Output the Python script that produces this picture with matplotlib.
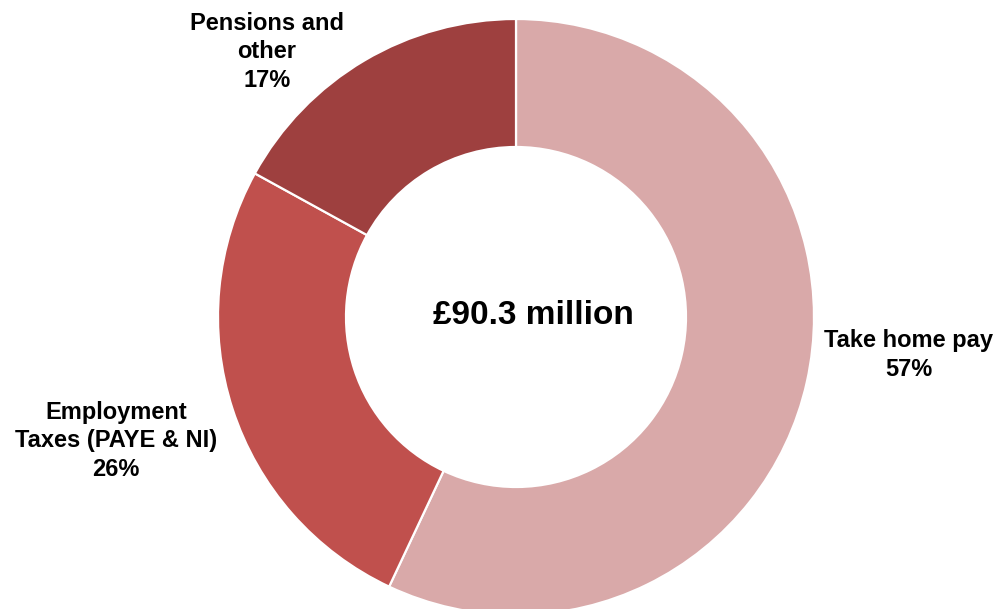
import matplotlib.pyplot as plt

plt.rcParams['font.family'] = ['Liberation Sans', 'DejaVu Sans']

# Pay bill breakdown
categories = ['Take home pay', 'Employment\nTaxes (PAYE & NI)', 'Pensions and\nother']
shares = [57, 26, 17]
colors = ['#D9A9A9', '#C0504D', '#9E403F']
total_label = '£90.3 million'

fig = plt.figure(figsize=(9.99, 6.09), dpi=100)
ax = fig.add_axes([0, 0, 1, 1])

cx, cy, r = 516, 609 - 317, 298
wedges, _ = ax.pie(shares, colors=colors, startangle=90, counterclock=False,
                   center=(cx, cy), radius=r, frame=True,
                   wedgeprops=dict(width=r - 170, edgecolor='white', linewidth=1.6))
ax.set_xlim(0, 999)
ax.set_ylim(0, 609)
ax.axis('off')

label_pos = [(909, 609 - 355), (116, 609 - 441), (267, 609 - 52)]
for name, val, (x, y) in zip(categories, shares, label_pos):
    ax.text(x, y, f'{name}\n{val}%', ha='center', va='center', fontsize=17,
            fontweight='bold', linespacing=1.3)

ax.text(533, 609 - 315, total_label, ha='center', va='center', fontsize=24,
        fontweight='bold')

fig.savefig('out.png', dpi=100)
